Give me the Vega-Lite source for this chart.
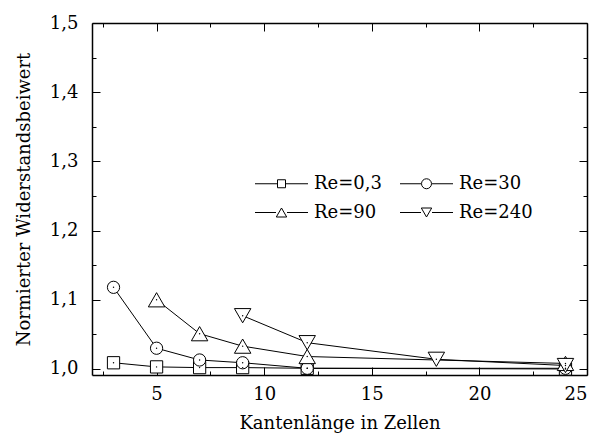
{
  "$schema": "https://vega.github.io/schema/vega-lite/v6.json",
  "width": 495,
  "height": 352,
  "autosize": {"type": "none"},
  "padding": {"left": 92, "top": 23, "right": 7, "bottom": 59},
  "background": "white",
  "config": {
    "view": {"stroke": null},
    "font": "DejaVu Serif",
    "axis": {
      "labelFont": "DejaVu Serif",
      "labelFontSize": 18,
      "labelColor": "black",
      "titleFont": "DejaVu Serif",
      "titleFontSize": 18,
      "titleFontWeight": "normal",
      "titleColor": "black",
      "domainColor": "black",
      "domainWidth": 1.5,
      "tickColor": "black",
      "tickWidth": 1,
      "grid": false
    }
  },
  "data": {
    "values": [
      {"series": "Re=0,3", "x": 3, "y": 1.009},
      {"series": "Re=0,3", "x": 5, "y": 1.003},
      {"series": "Re=0,3", "x": 7, "y": 1.002},
      {"series": "Re=0,3", "x": 9, "y": 1.002},
      {"series": "Re=0,3", "x": 12, "y": 1.001},
      {"series": "Re=0,3", "x": 24, "y": 1.0},
      {"series": "Re=30", "x": 3, "y": 1.118},
      {"series": "Re=30", "x": 5, "y": 1.03},
      {"series": "Re=30", "x": 7, "y": 1.013},
      {"series": "Re=30", "x": 9, "y": 1.009},
      {"series": "Re=30", "x": 12, "y": 1.001},
      {"series": "Re=30", "x": 24, "y": 1.001},
      {"series": "Re=90", "x": 5, "y": 1.1},
      {"series": "Re=90", "x": 7, "y": 1.051},
      {"series": "Re=90", "x": 9, "y": 1.033},
      {"series": "Re=90", "x": 12, "y": 1.018},
      {"series": "Re=90", "x": 24, "y": 1.008},
      {"series": "Re=240", "x": 9, "y": 1.077},
      {"series": "Re=240", "x": 12, "y": 1.038},
      {"series": "Re=240", "x": 18, "y": 1.014},
      {"series": "Re=240", "x": 24, "y": 1.005}
    ]
  },
  "resolve": {"axis": {"x": "independent", "y": "independent"}, "scale": {"shape": "independent"}},
  "layer": [
    {
      "mark": {"type": "point", "filled": false, "color": "black", "strokeWidth": 1, "opacity": 0},
      "encoding": {
        "x": {"field": "x", "type": "quantitative", "scale": {"domain": [2, 25], "nice": false, "zero": false}, "axis": null},
        "y": {"field": "y", "type": "quantitative", "scale": {"domain": [0.9913, 1.5], "nice": false, "zero": false}, "axis": null},
        "shape": {
          "field": "series", "type": "nominal",
          "scale": {
            "domain": ["Re=0,3", "Re=90", "Re=30", "Re=240"],
            "range": [
              "M-2.65,0H-0.45M0.45,0H2.65M-0.4,-0.4H0.4V0.4H-0.4Z",
              "M-2.65,0H-0.55M0.55,0H2.65M0,-0.45L0.52,0.45L-0.52,0.45Z",
              "M-2.65,0H-0.55M0.55,0H2.65M0.5,0A0.5,0.5 0 1 1 -0.5,0A0.5,0.5 0 1 1 0.5,0Z",
              "M-2.65,0H-0.55M0.55,0H2.65M0,0.45L0.52,-0.45L-0.52,-0.45Z"
            ]
          },
          "legend": {
            "orient": "none",
            "legendX": 179,
            "legendY": 150,
            "columns": 2,
            "title": null,
            "padding": 0,
            "symbolSize": 400,
            "symbolOpacity": 1,
            "symbolStrokeColor": "black",
            "symbolStrokeWidth": 1,
            "labelOffset": 22,
            "rowPadding": 9,
            "columnPadding": 16,
            "labelFont": "DejaVu Serif",
            "labelFontSize": 18,
            "labelColor": "black"
          }
        }
      }
    },
    {
      "mark": {"type": "line", "color": "black", "strokeWidth": 1},
      "encoding": {
        "x": {
          "field": "x", "type": "quantitative",
          "axis": {
            "orient": "bottom",
            "title": "Kantenlänge in Zellen",
            "values": [2.5, 5, 7.5, 10, 12.5, 15, 17.5, 20, 22.5, 25],
            "tickSize": {"condition": {"test": "datum.value % 5 === 0", "value": -8}, "value": -4},
            "labelExpr": "datum.value % 5 === 0 ? datum.label : ''",
            "labelPadding": 18,
            "titlePadding": 11
          }
        },
        "y": {
          "field": "y", "type": "quantitative",
          "axis": {
            "orient": "left",
            "title": "Normierter Widerstandsbeiwert",
            "values": [1.0, 1.05, 1.1, 1.15, 1.2, 1.25, 1.3, 1.35, 1.4, 1.45, 1.5],
            "tickSize": {"condition": {"test": "abs(datum.value*10 - round(datum.value*10)) < 0.001", "value": -8}, "value": -4},
            "labelExpr": "abs(datum.value*10 - round(datum.value*10)) < 0.001 ? replace(format(datum.value, '.1f'), '.', ',') : ''",
            "labelPadding": 22,
            "titlePadding": 16
          }
        },
        "detail": {"field": "series", "type": "nominal"}
      }
    },
    {
      "mark": {"type": "point", "filled": true, "fill": "white", "stroke": "black", "strokeWidth": 1, "opacity": 1},
      "encoding": {
        "x": {
          "field": "x", "type": "quantitative",
          "axis": {
            "orient": "top", "title": null, "labels": false,
            "values": [2.5, 5, 7.5, 10, 12.5, 15, 17.5, 20, 22.5, 25],
            "tickSize": {"condition": {"test": "datum.value % 5 === 0", "value": -8}, "value": -4}
          }
        },
        "y": {
          "field": "y", "type": "quantitative",
          "axis": {
            "orient": "right", "title": null, "labels": false,
            "values": [1.0, 1.05, 1.1, 1.15, 1.2, 1.25, 1.3, 1.35, 1.4, 1.45, 1.5],
            "tickSize": {"condition": {"test": "abs(datum.value*10 - round(datum.value*10)) < 0.001", "value": -8}, "value": -4}
          }
        },
        "shape": {
          "field": "series", "type": "nominal",
          "scale": {"domain": ["Re=0,3", "Re=90", "Re=30", "Re=240"], "range": ["square", "triangle-up", "circle", "triangle-down"]},
          "legend": null
        },
        "size": {"condition": {"test": "datum.series === 'Re=90' || datum.series === 'Re=240'", "value": 270}, "value": 150}
      }
    },
    {
      "mark": {"type": "point", "filled": true, "color": "black", "size": 2, "opacity": 1},
      "encoding": {
        "x": {"field": "x", "type": "quantitative", "axis": null},
        "y": {"field": "y", "type": "quantitative", "axis": null}
      }
    }
  ]
}
